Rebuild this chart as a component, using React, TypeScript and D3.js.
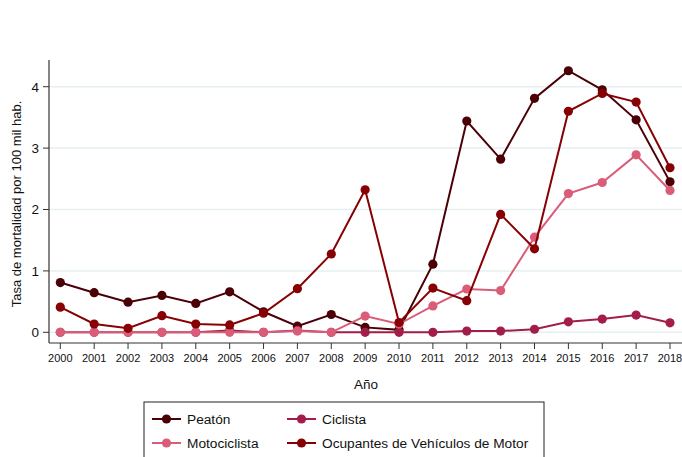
import { useEffect, useRef } from "react";
import * as d3 from "d3";

const years = [2000, 2001, 2002, 2003, 2004, 2005, 2006, 2007, 2008, 2009, 2010, 2011, 2012, 2013, 2014, 2015, 2016, 2017, 2018];

const peaton = [0.81, 0.645, 0.49, 0.6, 0.47, 0.66, 0.335, 0.1, 0.29, 0.08, 0.04, 1.11, 3.44, 2.82, 3.81, 4.26, 3.95, 3.46, 2.45];
const ciclista = [0, 0, 0, 0, 0, 0.03, 0, 0.03, 0, 0, 0, 0, 0.02, 0.02, 0.05, 0.17, 0.215, 0.28, 0.155];
const motociclista = [0, 0, 0, 0, 0, 0, 0, 0.02, 0, 0.265, 0.135, 0.43, 0.705, 0.68, 1.55, 2.26, 2.44, 2.89, 2.31];
const ocupantes = [0.41, 0.135, 0.065, 0.27, 0.135, 0.12, 0.31, 0.71, 1.275, 2.32, 0.16, 0.72, 0.515, 1.92, 1.36, 3.6, 3.89, 3.75, 2.68];

const yTicks = [0, 1, 2, 3, 4];

const series = [
  { name: "Peatón", values: peaton, color: "#4a0006" },
  { name: "Ciclista", values: ciclista, color: "#a21d48" },
  { name: "Motociclista", values: motociclista, color: "#d95d78" },
  { name: "Ocupantes de Vehículos de Motor", values: ocupantes, color: "#870004" },
];

export default function App() {
  const svgRef = useRef<SVGSVGElement>(null);

  useEffect(() => {
    if (!svgRef.current) return;
    const svg = d3.select(svgRef.current);
    svg.selectAll("*").remove();

    const font = "Liberation Sans, Arial, sans-serif";
    const left = 49;
    const right = 682;
    const axisY = 343;

    const x = d3.scalePoint<number>().domain(years).range([60.3, 670]);
    const y = d3.scaleLinear().domain([0, 4]).range([332.3, 86.7]);

    // gridlines
    svg.append("g")
      .selectAll("line")
      .data(yTicks)
      .enter()
      .append("line")
      .attr("x1", left)
      .attr("x2", right)
      .attr("y1", (d) => y(d))
      .attr("y2", (d) => y(d))
      .style("stroke", "#e6eff2")
      .style("stroke-width", "1.5px");

    // y axis
    const yAxis = svg.append("g");
    yAxis.append("line")
      .attr("x1", left).attr("x2", left)
      .attr("y1", 60).attr("y2", axisY)
      .style("stroke", "#333").style("stroke-width", "1.2px");
    yAxis.selectAll(".tick")
      .data(yTicks)
      .enter()
      .append("line")
      .attr("x1", left - 6).attr("x2", left)
      .attr("y1", (d) => y(d)).attr("y2", (d) => y(d))
      .style("stroke", "#333").style("stroke-width", "1px");
    yAxis.selectAll("text")
      .data(yTicks)
      .enter()
      .append("text")
      .attr("x", left - 10)
      .attr("y", (d) => y(d))
      .attr("dy", "0.36em")
      .style("text-anchor", "end")
      .style("font-family", font)
      .style("font-size", "13.5px")
      .style("fill", "#111")
      .text((d) => d);

    svg.append("text")
      .attr("transform", "translate(21, 204) rotate(-90)")
      .style("text-anchor", "middle")
      .style("font-family", font)
      .style("font-size", "13px")
      .style("fill", "#111")
      .text("Tasa de mortalidad por 100 mil hab.");

    // x axis
    const xAxis = svg.append("g");
    xAxis.append("line")
      .attr("x1", left).attr("x2", right)
      .attr("y1", axisY).attr("y2", axisY)
      .style("stroke", "#333").style("stroke-width", "1.2px");
    xAxis.selectAll(".tick")
      .data(years)
      .enter()
      .append("line")
      .attr("x1", (d) => x(d)!).attr("x2", (d) => x(d)!)
      .attr("y1", axisY).attr("y2", axisY + 6)
      .style("stroke", "#333").style("stroke-width", "1px");
    xAxis.selectAll("text")
      .data(years)
      .enter()
      .append("text")
      .attr("x", (d) => x(d)!)
      .attr("y", 362)
      .style("text-anchor", "middle")
      .style("font-family", font)
      .style("font-size", "11px")
      .style("fill", "#111")
      .text((d) => d);

    svg.append("text")
      .attr("x", 366)
      .attr("y", 389)
      .style("text-anchor", "middle")
      .style("font-family", font)
      .style("font-size", "13.5px")
      .style("fill", "#111")
      .text("Año");

    // lines + markers
    const line = d3.line<number>()
      .x((d, i) => x(years[i])!)
      .y((d) => y(d));

    series.forEach((s) => {
      svg.append("path")
        .datum(s.values)
        .attr("d", line)
        .style("fill", "none")
        .style("stroke", s.color)
        .style("stroke-width", "2px");
      svg.append("g")
        .selectAll("circle")
        .data(s.values)
        .enter()
        .append("circle")
        .attr("cx", (d, i) => x(years[i])!)
        .attr("cy", (d) => y(d))
        .attr("r", 4.6)
        .style("fill", s.color);
    });

    // legend
    const legend = svg.append("g");
    legend.append("rect")
      .attr("x", 144).attr("y", 402)
      .attr("width", 400).attr("height", 70)
      .style("fill", "#fff")
      .style("stroke", "#222")
      .style("stroke-width", "1px");

    const cols = [152, 287];
    const rows = [419, 443];
    series.forEach((s, i) => {
      const lx = cols[i % 2];
      const ly = rows[Math.floor(i / 2)];
      legend.append("line")
        .attr("x1", lx).attr("x2", lx + 29)
        .attr("y1", ly).attr("y2", ly)
        .style("stroke", s.color).style("stroke-width", "2px");
      legend.append("circle")
        .attr("cx", lx + 14.5).attr("cy", ly)
        .attr("r", 4.6)
        .style("fill", s.color);
      legend.append("text")
        .attr("x", lx + 35)
        .attr("y", ly)
        .attr("dy", "0.36em")
        .style("font-family", font)
        .style("font-size", "13.7px")
        .style("fill", "#111")
        .text(s.name);
    });
  }, []);

  return (
    <svg
      ref={svgRef}
      width={682}
      height={457}
      style={{ position: "absolute", left: 0, top: 0, background: "#fff" }}
    ></svg>
  );
}
